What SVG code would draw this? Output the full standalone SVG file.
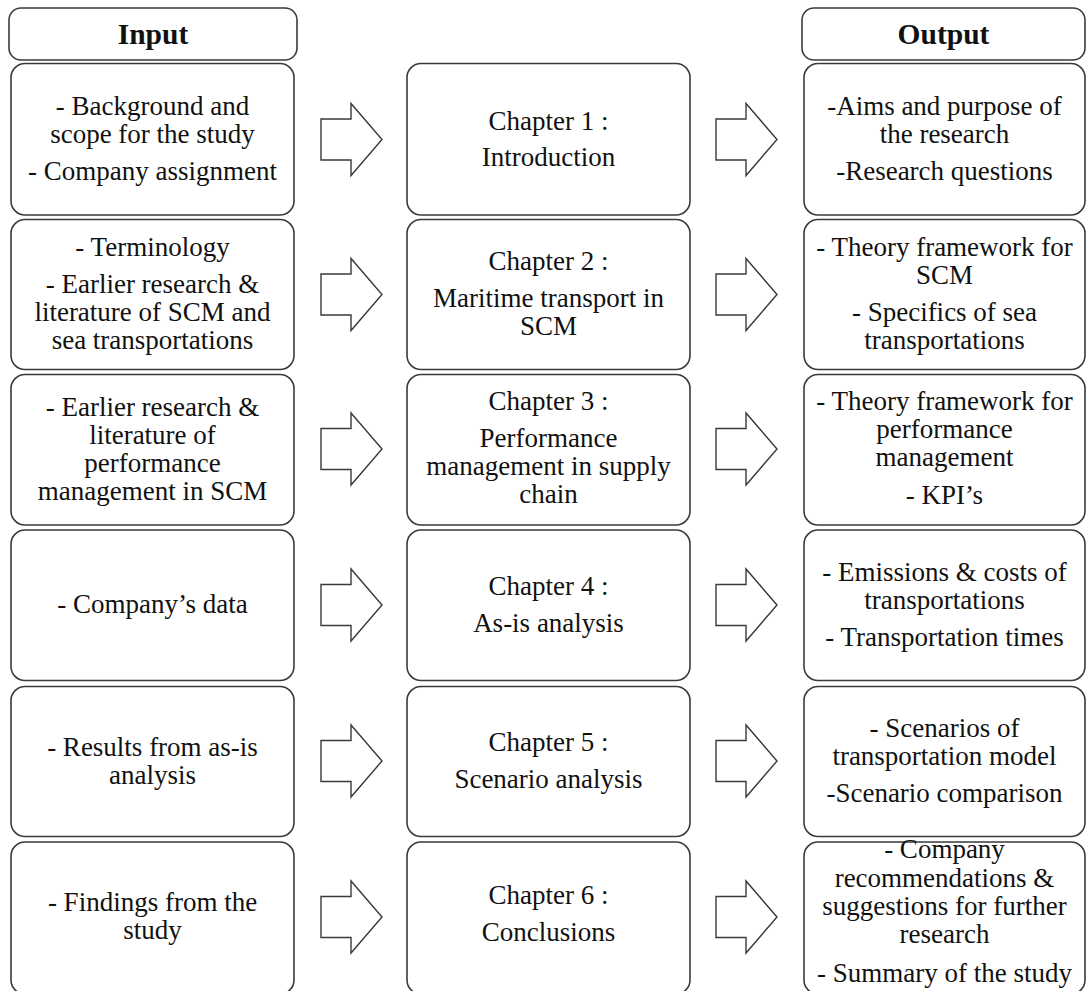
<svg xmlns="http://www.w3.org/2000/svg" xmlns:xlink="http://www.w3.org/1999/xlink" width="1086" height="991" viewBox="0 0 1086 991">
<defs>
<style>
.box{fill:#ffffff;stroke:#3a3a3a;stroke-width:1.6}
.t{font-family:"Liberation Serif","Times New Roman",serif;font-size:27px;fill:#111111;text-anchor:middle}
.h{font-weight:bold;font-size:29.5px}
.arrow{fill:#ffffff;stroke:#3a3a3a;stroke-width:1.4;stroke-linejoin:miter}
</style>
<path id="blockArrow" d="M0,-20.5 H30 V-36 L61,0 L30,36 V20.5 H0 Z"/>
</defs>
<rect width="1086" height="991" fill="#ffffff"/>

<g id="header-input">
<rect class="box" x="9" y="8" width="288" height="52" rx="12"/>
<text class="t h" x="153" y="44">Input</text>
</g>
<g id="header-output">
<rect class="box" x="802" y="8" width="283" height="52" rx="12"/>
<text class="t h" x="943.5" y="44">Output</text>
</g>

<!-- Row 1 -->
<g id="in1">
<rect class="box" x="11" y="63.5" width="283" height="151.5" rx="14"/>
<text class="t"><tspan x="152.5" y="115">- Background and</tspan><tspan x="152.5" y="143">scope for the study</tspan><tspan x="152.5" y="180">- Company assignment</tspan></text>
</g>
<g id="ch1">
<rect class="box" x="407" y="63.5" width="283" height="151.5" rx="14"/>
<text class="t"><tspan x="548.5" y="130">Chapter 1 :</tspan><tspan x="548.5" y="166">Introduction</tspan></text>
</g>
<g id="out1">
<rect class="box" x="804" y="63.5" width="281" height="151.5" rx="14"/>
<text class="t"><tspan x="944.5" y="115">-Aims and purpose of</tspan><tspan x="944.5" y="143">the research</tspan><tspan x="944.5" y="180">-Research questions</tspan></text>
</g>

<!-- Row 2 -->
<g id="in2">
<rect class="box" x="11" y="219.5" width="283" height="150" rx="14"/>
<text class="t"><tspan x="152.5" y="256">- Terminology</tspan><tspan x="152.5" y="293">- Earlier research &amp;</tspan><tspan x="152.5" y="321">literature of SCM and</tspan><tspan x="152.5" y="349">sea transportations</tspan></text>
</g>
<g id="ch2">
<rect class="box" x="407" y="219.5" width="283" height="150" rx="14"/>
<text class="t"><tspan x="548.5" y="270">Chapter 2 :</tspan><tspan x="548.5" y="307">Maritime transport in</tspan><tspan x="548.5" y="335">SCM</tspan></text>
</g>
<g id="out2">
<rect class="box" x="804" y="219.5" width="281" height="150" rx="14"/>
<text class="t"><tspan x="944.5" y="256">- Theory framework for</tspan><tspan x="944.5" y="284">SCM</tspan><tspan x="944.5" y="321">- Specifics of sea</tspan><tspan x="944.5" y="349">transportations</tspan></text>
</g>

<!-- Row 3 -->
<g id="in3">
<rect class="box" x="11" y="374.5" width="283" height="150.5" rx="14"/>
<text class="t"><tspan x="152.5" y="416">- Earlier research &amp;</tspan><tspan x="152.5" y="444">literature of</tspan><tspan x="152.5" y="472">performance</tspan><tspan x="152.5" y="500">management in SCM</tspan></text>
</g>
<g id="ch3">
<rect class="box" x="407" y="374.5" width="283" height="150.5" rx="14"/>
<text class="t"><tspan x="548.5" y="410">Chapter 3 :</tspan><tspan x="548.5" y="447">Performance</tspan><tspan x="548.5" y="475">management in supply</tspan><tspan x="548.5" y="503">chain</tspan></text>
</g>
<g id="out3">
<rect class="box" x="804" y="374.5" width="281" height="150.5" rx="14"/>
<text class="t"><tspan x="944.5" y="410">- Theory framework for</tspan><tspan x="944.5" y="438">performance</tspan><tspan x="944.5" y="466">management</tspan><tspan x="944.5" y="504">- KPI’s</tspan></text>
</g>

<!-- Row 4 -->
<g id="in4">
<rect class="box" x="11" y="530" width="283" height="150.5" rx="14"/>
<text class="t" x="152.5" y="613">- Company’s data</text>
</g>
<g id="ch4">
<rect class="box" x="407" y="530" width="283" height="150.5" rx="14"/>
<text class="t"><tspan x="548.5" y="595">Chapter 4 :</tspan><tspan x="548.5" y="632">As-is analysis</tspan></text>
</g>
<g id="out4">
<rect class="box" x="804" y="530" width="281" height="150.5" rx="14"/>
<text class="t"><tspan x="944.5" y="581">- Emissions &amp; costs of</tspan><tspan x="944.5" y="609">transportations</tspan><tspan x="944.5" y="646">- Transportation times</tspan></text>
</g>

<!-- Row 5 -->
<g id="in5">
<rect class="box" x="11" y="686.5" width="283" height="150" rx="14"/>
<text class="t"><tspan x="152.5" y="756">- Results from as-is</tspan><tspan x="152.5" y="784">analysis</tspan></text>
</g>
<g id="ch5">
<rect class="box" x="407" y="686.5" width="283" height="150" rx="14"/>
<text class="t"><tspan x="548.5" y="751">Chapter 5 :</tspan><tspan x="548.5" y="788">Scenario analysis</tspan></text>
</g>
<g id="out5">
<rect class="box" x="804" y="686.5" width="281" height="150" rx="14"/>
<text class="t"><tspan x="944.5" y="737">- Scenarios of</tspan><tspan x="944.5" y="765">transportation model</tspan><tspan x="944.5" y="802">-Scenario comparison</tspan></text>
</g>

<!-- Row 6 -->
<g id="in6">
<rect class="box" x="11" y="842" width="283" height="152" rx="14"/>
<text class="t"><tspan x="152.5" y="911">- Findings from the</tspan><tspan x="152.5" y="939">study</tspan></text>
</g>
<g id="ch6">
<rect class="box" x="407" y="842" width="283" height="152" rx="14"/>
<text class="t"><tspan x="548.5" y="904">Chapter 6 :</tspan><tspan x="548.5" y="941">Conclusions</tspan></text>
</g>
<g id="out6">
<rect class="box" x="804" y="842" width="281" height="152" rx="14"/>
<text class="t"><tspan x="944.5" y="858">- Company</tspan><tspan x="944.5" y="887">recommendations &amp;</tspan><tspan x="944.5" y="915">suggestions for further</tspan><tspan x="944.5" y="943">research</tspan><tspan x="944.5" y="982">- Summary of the study</tspan></text>
</g>

<g id="connectors">
<use class="arrow" xlink:href="#blockArrow" href="#blockArrow" transform="translate(321,139.5)"/>
<use class="arrow" xlink:href="#blockArrow" href="#blockArrow" transform="translate(716,139.5)"/>
<use class="arrow" xlink:href="#blockArrow" href="#blockArrow" transform="translate(321,294.5)"/>
<use class="arrow" xlink:href="#blockArrow" href="#blockArrow" transform="translate(716,294.5)"/>
<use class="arrow" xlink:href="#blockArrow" href="#blockArrow" transform="translate(321,449)"/>
<use class="arrow" xlink:href="#blockArrow" href="#blockArrow" transform="translate(716,449)"/>
<use class="arrow" xlink:href="#blockArrow" href="#blockArrow" transform="translate(321,605)"/>
<use class="arrow" xlink:href="#blockArrow" href="#blockArrow" transform="translate(716,605)"/>
<use class="arrow" xlink:href="#blockArrow" href="#blockArrow" transform="translate(321,761)"/>
<use class="arrow" xlink:href="#blockArrow" href="#blockArrow" transform="translate(716,761)"/>
<use class="arrow" xlink:href="#blockArrow" href="#blockArrow" transform="translate(321,917)"/>
<use class="arrow" xlink:href="#blockArrow" href="#blockArrow" transform="translate(716,917)"/>
</g>
</svg>
